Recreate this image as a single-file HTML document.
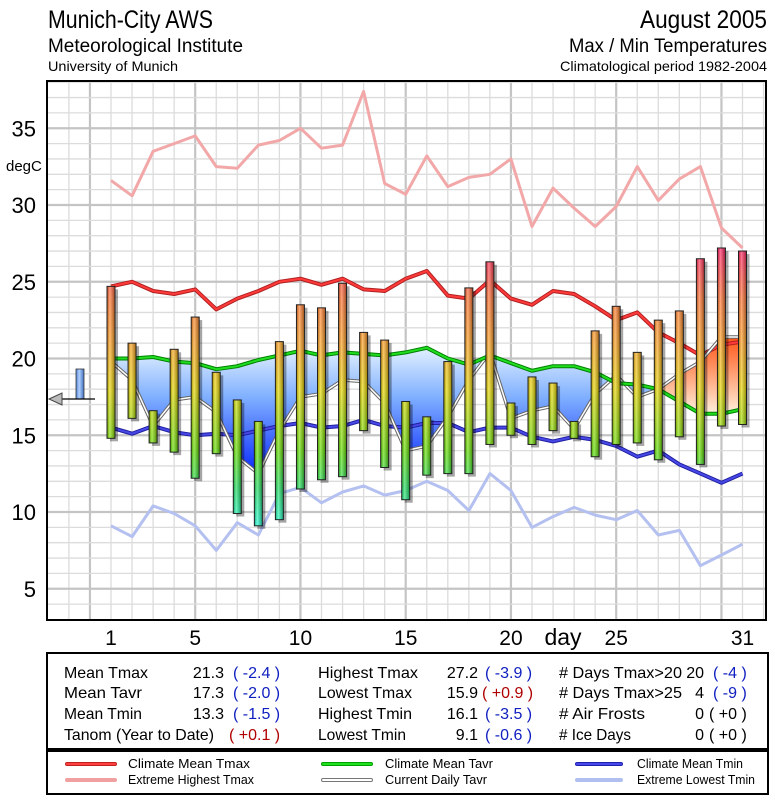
<!DOCTYPE html>
<html><head><meta charset="utf-8"><style>
html,body{margin:0;padding:0;background:#fff;}
svg{display:block;font-family:"Liberation Sans Narrow","Liberation Sans",sans-serif;}
</style></head><body>
<svg id="chart" width="775" height="800" viewBox="0 0 775 800">
<defs>
<linearGradient id="barGrad" gradientUnits="userSpaceOnUse" x1="0" y1="250" x2="0" y2="530">
<stop offset="0" stop-color="#ff2060"/><stop offset="0.17" stop-color="#ff7030"/><stop offset="0.33" stop-color="#ffa020"/><stop offset="0.5" stop-color="#e8d800"/><stop offset="0.72" stop-color="#60e000"/><stop offset="0.85" stop-color="#20e060"/><stop offset="1" stop-color="#20ffe0"/>
</linearGradient>
<linearGradient id="shine" x1="0" y1="0" x2="1" y2="0">
<stop offset="0" stop-color="#000" stop-opacity="0.25"/><stop offset="0.35" stop-color="#fff" stop-opacity="0.35"/><stop offset="1" stop-color="#000" stop-opacity="0.35"/>
</linearGradient>
<linearGradient id="blueGrad" gradientUnits="userSpaceOnUse" x1="0" y1="345" x2="0" y2="475">
<stop offset="0" stop-color="#e8f4ff"/><stop offset="0.4" stop-color="#80b0ff"/><stop offset="1" stop-color="#0828ff"/>
</linearGradient>
<linearGradient id="orangeGrad" gradientUnits="userSpaceOnUse" x1="0" y1="335" x2="0" y2="415">
<stop offset="0" stop-color="#ff5010"/><stop offset="1" stop-color="#fff4e0"/>
</linearGradient>
<linearGradient id="smallBar" x1="0" y1="0" x2="1" y2="0">
<stop offset="0" stop-color="#5080d0"/><stop offset="0.4" stop-color="#b0d0ff"/><stop offset="1" stop-color="#4070c0"/>
</linearGradient>
</defs>

<text x="48" y="28" font-size="25" textLength="165" lengthAdjust="spacingAndGlyphs">Munich-City AWS</text>
<text x="48" y="52" font-size="19" textLength="195" lengthAdjust="spacingAndGlyphs">Meteorological Institute</text>
<text x="48" y="71" font-size="14" textLength="130" lengthAdjust="spacingAndGlyphs">University of Munich</text>
<text x="767" y="28" font-size="25" text-anchor="end" textLength="127" lengthAdjust="spacingAndGlyphs">August 2005</text>
<text x="767" y="52" font-size="19" text-anchor="end" textLength="198" lengthAdjust="spacingAndGlyphs">Max / Min Temperatures</text>
<text x="767" y="71" font-size="14" text-anchor="end" textLength="207" lengthAdjust="spacingAndGlyphs">Climatological period 1982-2004</text>

<g id="grid"></g>
<g id="plot"></g>
<rect x="47" y="81" width="719" height="539" fill="none" stroke="#000" stroke-width="2"/>
<g id="axes"></g>

<g>
<rect x="76" y="369" width="8" height="30" fill="url(#smallBar)" stroke="#333" stroke-width="0.8"/>
<line x1="60" y1="399" x2="95" y2="399" stroke="#000" stroke-width="1.2"/>
<polygon points="49,399 62,393 62,405" fill="#bbb" stroke="#444" stroke-width="1"/>
</g>

<rect x="47" y="653" width="721" height="96" fill="#fff" stroke="#000" stroke-width="2"/>
<g font-size="16">
<text x="64" y="678" textLength="84" lengthAdjust="spacingAndGlyphs">Mean Tmax</text>
<text x="224" y="678" text-anchor="end">21.3</text>
<text x="233" y="678" fill="#1020c0">( -2.4 )</text>
<text x="64" y="698" textLength="78" lengthAdjust="spacingAndGlyphs">Mean Tavr</text>
<text x="224" y="698" text-anchor="end">17.3</text>
<text x="233" y="698" fill="#1020c0">( -2.0 )</text>
<text x="64" y="719" textLength="78" lengthAdjust="spacingAndGlyphs">Mean Tmin</text>
<text x="224" y="719" text-anchor="end">13.3</text>
<text x="233" y="719" fill="#1020c0">( -1.5 )</text>
<text x="64" y="740" textLength="150" lengthAdjust="spacingAndGlyphs">Tanom (Year to Date)</text>
<text x="229" y="740" fill="#b00000">( +0.1 )</text>

<text x="318" y="678" textLength="100" lengthAdjust="spacingAndGlyphs">Highest Tmax</text>
<text x="478" y="678" text-anchor="end">27.2</text>
<text x="485" y="678" fill="#1020c0">( -3.9 )</text>
<text x="318" y="698" textLength="94" lengthAdjust="spacingAndGlyphs">Lowest Tmax</text>
<text x="478" y="698" text-anchor="end">15.9</text>
<text x="482" y="698" fill="#b00000">( +0.9 )</text>
<text x="318" y="719" textLength="94" lengthAdjust="spacingAndGlyphs">Highest Tmin</text>
<text x="478" y="719" text-anchor="end">16.1</text>
<text x="485" y="719" fill="#1020c0">( -3.5 )</text>
<text x="318" y="740" textLength="88" lengthAdjust="spacingAndGlyphs">Lowest Tmin</text>
<text x="478" y="740" text-anchor="end">9.1</text>
<text x="485" y="740" fill="#1020c0">( -0.6 )</text>

<text x="559" y="678" textLength="123" lengthAdjust="spacingAndGlyphs"># Days Tmax&gt;20</text>
<text x="704" y="678" text-anchor="end">20</text>
<text x="713" y="678" fill="#1020c0">( -4 )</text>
<text x="559" y="698" textLength="123" lengthAdjust="spacingAndGlyphs"># Days Tmax&gt;25</text>
<text x="704" y="698" text-anchor="end">4</text>
<text x="713" y="698" fill="#1020c0">( -9 )</text>
<text x="559" y="719" textLength="86" lengthAdjust="spacingAndGlyphs"># Air Frosts</text>
<text x="704" y="719" text-anchor="end">0</text>
<text x="709" y="719">( +0 )</text>
<text x="559" y="740" textLength="72" lengthAdjust="spacingAndGlyphs"># Ice Days</text>
<text x="704" y="740" text-anchor="end">0</text>
<text x="709" y="740">( +0 )</text>
</g>

<rect x="47" y="751" width="721" height="43" fill="#fff" stroke="#000" stroke-width="2"/>
<g font-size="12.5">
<g><line x1="67" y1="764" x2="115" y2="764" stroke="#c02020" stroke-width="4" stroke-linecap="round"/><line x1="67" y1="764" x2="115" y2="764" stroke="#ff4040" stroke-width="2" stroke-linecap="round"/><text x="128" y="768" textLength="122" lengthAdjust="spacingAndGlyphs">Climate Mean Tmax</text></g>
<g><line x1="67" y1="780" x2="115" y2="780" stroke="#f0a0a0" stroke-width="4" stroke-linecap="round"/><text x="128" y="784" textLength="126" lengthAdjust="spacingAndGlyphs">Extreme Highest Tmax</text></g>
<g><line x1="323" y1="764" x2="371" y2="764" stroke="#00a000" stroke-width="4" stroke-linecap="round"/><line x1="323" y1="764" x2="371" y2="764" stroke="#20e020" stroke-width="2" stroke-linecap="round"/><text x="385" y="768" textLength="108" lengthAdjust="spacingAndGlyphs">Climate Mean Tavr</text></g>
<g><line x1="323" y1="780" x2="371" y2="780" stroke="#777" stroke-width="4" stroke-linecap="round"/><line x1="323" y1="780" x2="371" y2="780" stroke="#fff" stroke-width="2" stroke-linecap="round"/><text x="385" y="784" textLength="102" lengthAdjust="spacingAndGlyphs">Current Daily Tavr</text></g>
<g><line x1="577" y1="764" x2="621" y2="764" stroke="#2020b0" stroke-width="4" stroke-linecap="round"/><line x1="577" y1="764" x2="621" y2="764" stroke="#4848e8" stroke-width="2" stroke-linecap="round"/><text x="637" y="768" textLength="106" lengthAdjust="spacingAndGlyphs">Climate Mean Tmin</text></g>
<g><line x1="577" y1="780" x2="621" y2="780" stroke="#b0bff0" stroke-width="4" stroke-linecap="round"/><text x="637" y="784" textLength="118" lengthAdjust="spacingAndGlyphs">Extreme Lowest Tmin</text></g>
</g>
</svg>
<script>
const days = [1,2,3,4,5,6,7,8,9,10,11,12,13,14,15,16,17,18,19,20,21,22,23,24,25,26,27,28,29,30,31];
const tmax = [24.7,21.0,16.6,20.6,22.7,19.1,17.3,15.9,21.1,23.5,23.3,24.9,21.7,21.2,17.2,16.2,19.8,24.6,26.3,17.1,18.8,18.4,15.9,21.8,23.4,20.4,22.5,23.1,26.5,27.2,27.0];
const tmin = [14.8,16.1,14.5,13.9,12.2,13.8,9.9,9.1,9.5,11.5,12.1,12.3,15.3,12.9,10.8,12.4,12.5,12.5,14.4,15.0,14.4,15.3,14.8,13.6,14.4,14.5,13.4,14.9,13.1,15.6,15.7];
const tavr = [19.8,18.6,15.6,17.3,17.5,16.5,13.6,12.5,15.3,17.5,17.7,18.6,18.5,17.1,14.0,14.3,16.2,18.6,20.4,16.1,16.6,16.9,15.4,17.7,18.9,17.5,18.0,19.0,19.8,21.4,21.4];
const climTmax = [24.7,25.0,24.4,24.2,24.5,23.2,23.9,24.4,25.0,25.2,24.8,25.2,24.5,24.4,25.2,25.7,24.1,23.9,25.1,23.9,23.5,24.4,24.2,23.4,22.5,23.0,21.7,21.0,20.2,20.9,21.1];
const climTavr = [20.0,20.0,20.1,19.8,19.7,19.3,19.5,19.9,20.2,20.5,20.2,20.4,20.3,20.2,20.4,20.7,20.0,19.6,20.2,19.7,19.2,19.5,19.5,19.1,18.4,18.3,18.0,17.2,16.4,16.4,16.7];
const climTmin = [15.5,15.1,15.6,15.2,15.0,15.1,15.0,15.3,15.6,15.8,15.5,15.6,16.0,15.6,15.5,15.8,15.8,15.2,15.5,15.5,14.9,14.6,14.9,14.7,14.3,13.6,14.0,13.1,12.5,11.9,12.5];
const extHigh = [31.6,30.6,33.5,34.0,34.5,32.5,32.4,33.9,34.2,35.0,33.7,33.9,37.4,31.4,30.7,33.2,31.2,31.8,32.0,33.0,28.6,31.1,29.8,28.6,29.9,32.5,30.3,31.7,32.5,28.5,27.2];
const extLow = [9.1,8.4,10.4,9.9,9.1,7.5,9.3,8.5,11.2,11.6,10.6,11.3,11.7,11.1,11.4,12.0,11.4,10.1,12.5,11.4,9.0,9.7,10.3,9.8,9.5,10.1,8.5,8.8,6.5,7.2,7.9];
const yTicks = [5,10,15,20,25,30,35];
const xTicks = [1,5,10,15,20,25,31];

const NS = 'http://www.w3.org/2000/svg';
const X = d => 111 + (d - 1) * 21.05;
const Y = t => 665.5 - t * 15.35;
function mk(tag, attrs, parent){ const e=document.createElementNS(NS,tag); for(const k in attrs) e.setAttribute(k,attrs[k]); parent.appendChild(e); return e; }
const grid=document.getElementById('grid'), plot=document.getElementById('plot'), axes=document.getElementById('axes');

mk('rect',{x:47,y:81,width:719,height:539,fill:'#fff'},grid);
for(let d=-2; d<=33; d++){
  const x=X(d); if(x<48||x>765) continue;
  const major = d%5===0;
  const l=mk('line',{x1:x,y1:81,x2:x,y2:620,stroke:major?'#c4c4c4':'#dcdcdc','stroke-width':major?2.2:1.3},grid);
  
  
}
for(let t=3; t<=38; t++){
  const y=Y(t); if(y<82||y>619) continue;
  const major=t%5===0;
  const l=mk('line',{x1:47,y1:y,x2:766,y2:y,stroke:major?'#c4c4c4':'#dcdcdc','stroke-width':major?2.2:1.3},grid);
  
  
}

function pts(arr){ return arr.map((v,i)=>X(days[i]).toFixed(1)+','+Y(v).toFixed(1)); }

// fill between climate Tavr and current Tavr
const between = 'M'+pts(climTavr).join(' L')+' L'+pts(tavr).reverse().join(' L')+' Z';
const belowClip = 'M'+pts(climTavr).join(' L')+' L'+X(31)+',620 L'+X(1)+',620 Z';
const aboveClip = 'M'+pts(climTavr).join(' L')+' L'+X(31)+',81 L'+X(1)+',81 Z';
const defs=document.querySelector('defs');
const c1=mk('clipPath',{id:'below'},defs); mk('path',{d:belowClip},c1);
const c2=mk('clipPath',{id:'above'},defs); mk('path',{d:aboveClip},c2);
const fb=mk('path',{d:between,fill:'url(#blueGrad)','clip-path':'url(#below)'},plot);


const fo=mk('path',{d:between,fill:'url(#orangeGrad)','clip-path':'url(#above)'},plot);



function line(arr,outer,inner,w,name){
  const g=mk('g',{},plot);
  
  
  const p=pts(arr).join(' ');
  mk('polyline',{points:p,fill:'none',stroke:outer,'stroke-width':w,'stroke-linejoin':'round'},g);
  if(inner) mk('polyline',{points:p,fill:'none',stroke:inner,'stroke-width':w-2,'stroke-linejoin':'round'},g);
}
line(extHigh,'#f2a8a8',null,3,'extreme-highest-tmax-line');
line(extLow,'#b4c0f0',null,3,'extreme-lowest-tmin-line');
line(climTmax,'#b02020','#ff3a3a',4,'climate-mean-tmax-line');
line(climTmin,'#2020a0','#4848e8',4,'climate-mean-tmin-line');
line(tavr,'#666','#fff',3.5,'current-daily-tavr-line');
line(climTavr,'#008000','#20dd20',4,'climate-mean-tavr-line');

days.forEach((d,i)=>{
  const x=X(d)-4, y1=Y(tmax[i]), y2=Y(tmin[i]);
  const g=mk('g',{},plot);
  
  
  mk('rect',{x:x+3,y:y1+3,width:8,height:y2-y1,fill:'#000',opacity:0.35},g);
  mk('rect',{x:x,y:y1,width:8,height:y2-y1,fill:'url(#barGrad)'},g);
  mk('rect',{x:x,y:y1,width:8,height:y2-y1,fill:'url(#shine)',stroke:'#222','stroke-width':1},g);
});

yTicks.forEach(t=>{
  const e=mk('text',{x:36,y:Y(t)+8,'font-size':22,'text-anchor':'end'},axes);
  e.textContent=t;
  
  
});
const u=mk('text',{x:6,y:171,'font-size':15},axes);
u.textContent='degC';


xTicks.forEach(d=>{
  const e=mk('text',{x:X(d),y:645,'font-size':21,'text-anchor':'middle'},axes);
  e.textContent=d;
  
  
});
const dl=mk('text',{x:563,y:645,'font-size':23,'text-anchor':'middle'},axes);
dl.textContent='day';


</script>
</body></html>
